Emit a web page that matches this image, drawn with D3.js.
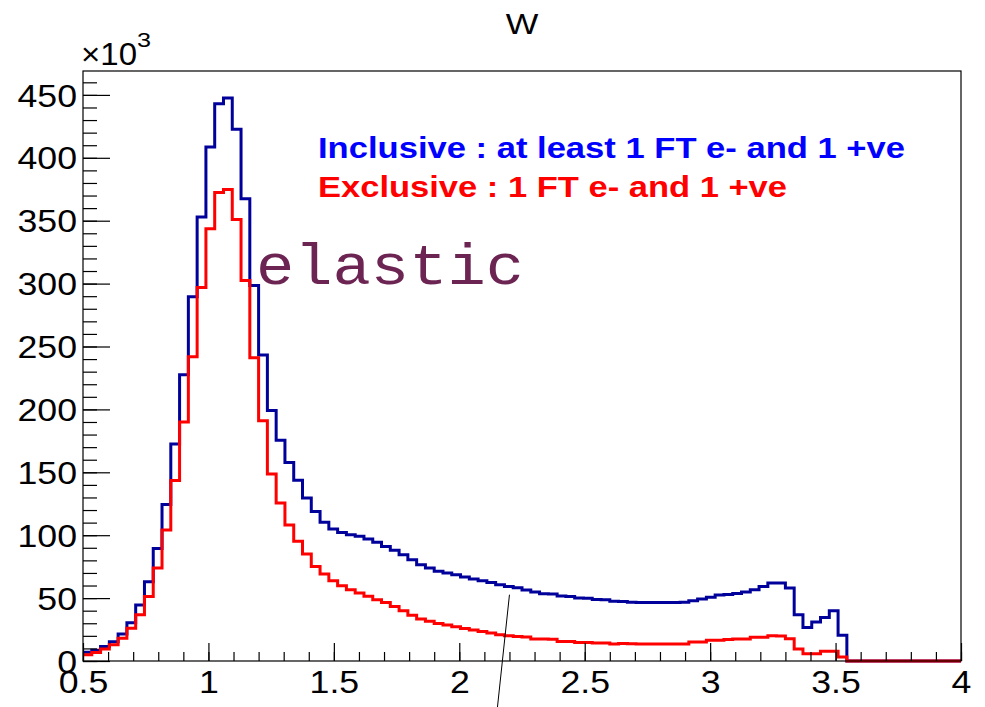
<!DOCTYPE html>
<html>
<head>
<meta charset="utf-8">
<script src="https://cdn.jsdelivr.net/npm/d3@7"></script>
<style>
  html, body { margin: 0; padding: 0; background: #fff; }
  svg { display: block; }
</style>
</head>
<body>
<svg id="chart" width="985" height="707" font-family="'Liberation Sans', Arial, Helvetica, sans-serif"></svg>
<script>
// ---- data (values in units of 10^3 entries, 100 bins of W from 0.5 to 4) ----
const binLow = 0.5;
const binHigh = 4.0;
const nBins = 100;

const inclusive = [
  7, 8.5, 11.5, 15.4, 21.4, 30.4, 44.5, 63, 89.5, 124.5,
  172.5, 227.5, 289.5, 353, 408.5, 443, 447.5, 422.7, 367.5, 298.5,
  243.2, 199.2, 175.4, 157.8, 143.7, 129.5, 118.9, 110.2, 104.9, 102.2,
  100.4, 99.1, 97, 94.3, 91.1, 88, 84.5, 80.5, 76.6, 73.9,
  71.3, 69.9, 68.6, 66.8, 65.2, 63.8, 62.5, 60.6, 59.3, 58.2,
  56.4, 54.8, 53.5, 53.3, 51.6, 51.2, 50.1, 49.8, 48.8, 48.6,
  47.5, 47.3, 46.7, 46.6, 46.6, 46.6, 46.6, 46.6, 46.8, 47.9,
  49.3, 50.6, 52.5, 52.9, 53.6, 54.8, 56.7, 59.3, 62, 62,
  58, 36.8, 26.6, 31, 34.6, 40, 20.5, 0, 0, 0,
  0, 0, 0, 0, 0, 0, 0, 0, 0, 0
];

const exclusive = [
  5, 6.7, 9.5, 13, 18.1, 26, 36.8, 51.2, 74, 104.2,
  143.5, 190, 241.8, 297, 343.6, 372.4, 374.8, 351, 302.4, 241,
  191, 148.7, 125.5, 108.1, 95.1, 85, 75.2, 69.1, 63.8, 59.8,
  56.7, 54.1, 51.4, 48.7, 46.6, 43.4, 40, 36.3, 33.4, 31.5,
  29.9, 28.6, 27.3, 25.9, 24.6, 23.5, 22.3, 20.9, 20.1, 19.5,
  19, 17.5, 17.5, 17.2, 15.6, 15.6, 14.8, 14.8, 14.3, 14.3,
  13.5, 14, 13.7, 13.5, 13.5, 13.5, 13.5, 13.5, 13.5, 15.1,
  15.1, 16.4, 16.4, 17, 17.5, 17.5, 18.8, 18.8, 20.1, 19.8,
  17.7, 9.5, 5.8, 5.8, 7.7, 7.7, 3.2, 0, 0, 0,
  0, 0, 0, 0, 0, 0, 0, 0, 0, 0
];

const xTicks = [0.5, 1, 1.5, 2, 2.5, 3, 3.5, 4];
const xTickLabels = ["0.5", "1", "1.5", "2", "2.5", "3", "3.5", "4"];
const yTicks = [0, 50, 100, 150, 200, 250, 300, 350, 400, 450];
const yTickLabels = ["0", "50", "100", "150", "200", "250", "300", "350", "400", "450"];
const yMax = 469;

const titleText = "W";
const legendLabels = ["Inclusive : at least 1 FT e- and 1 +ve", "Exclusive : 1 FT e- and 1 +ve"];
const annotationText = "elastic";
// thin annotation line, in data units (x in W, y in 10^3)
const annotationLine = { x1: 2.2, y1: 52.7, x2: 2.152, y2: -37 };

// ---- layout ----
const svg = d3.select("#chart");
const frame = { left: 83, right: 961, top: 71, bottom: 661 };
const stretch = 1.15; // horizontal widening of the reference's text

function widen(sel) {
  sel.each(function () {
    const w = this.getComputedTextLength();
    d3.select(this).attr("textLength", w * stretch).attr("lengthAdjust", "spacingAndGlyphs");
  });
}

const x = d3.scaleLinear().domain([binLow, binHigh]).range([frame.left, frame.right]);
const y = d3.scaleLinear().domain([0, yMax]).range([frame.bottom, frame.top]);

const binWidth = (binHigh - binLow) / nBins;
function stepPoints(vals) {
  const pts = vals.map((v, i) => [binLow + i * binWidth, v]);
  pts.push([binHigh, vals[vals.length - 1]]);
  return pts;
}
const line = d3.line().x(d => x(d[0])).y(d => y(d[1])).curve(d3.curveStepAfter);

// histograms
svg.append("path").datum(stepPoints(inclusive))
  .attr("d", line).attr("fill", "none")
  .attr("stroke", "#00009a").attr("stroke-width", 3).attr("stroke-linejoin", "miter");
svg.append("path").datum(stepPoints(exclusive))
  .attr("d", line).attr("fill", "none")
  .attr("stroke", "#ff0000").attr("stroke-width", 3).attr("stroke-linejoin", "miter");

// frame
svg.append("rect")
  .attr("x", frame.left).attr("y", frame.top)
  .attr("width", frame.right - frame.left).attr("height", frame.bottom - frame.top)
  .attr("fill", "none").attr("stroke", "#000").attr("stroke-width", 1.2);

// y axis minor ticks
const yMinor = d3.range(0, yMax, 10);
const yMinorAxis = d3.axisLeft(y).tickValues(yMinor).tickSize(-14).tickFormat("");
const gyMinor = svg.append("g").attr("transform", `translate(${frame.left},0)`).call(yMinorAxis);
gyMinor.select(".domain").remove();

// y axis major
const yAxis = d3.axisLeft(y).tickValues(yTicks).tickSize(-27).tickPadding(6)
  .tickFormat((d, i) => yTickLabels[i]);
const gy = svg.append("g").attr("transform", `translate(${frame.left},0)`).call(yAxis);
gy.attr("font-family", null).attr("font-size", null);
gy.select(".domain").remove();
gy.selectAll("text").style("font-size", "31px").attr("fill", "#000").attr("dy", "0.36em").call(widen);

// x axis minor
const xMinor = d3.range(5, 41).map(d => d / 10);
const xMinorAxis = d3.axisBottom(x).tickValues(xMinor).tickSize(-9).tickFormat("");
const gxMinor = svg.append("g").attr("transform", `translate(0,${frame.bottom})`).call(xMinorAxis);
gxMinor.select(".domain").remove();

// x axis major
const xAxis = d3.axisBottom(x).tickValues(xTicks).tickSize(-18).tickPadding(10)
  .tickFormat((d, i) => xTickLabels[i]);
const gx = svg.append("g").attr("transform", `translate(0,${frame.bottom})`).call(xAxis);
gx.attr("font-family", null).attr("font-size", null);
gx.select(".domain").remove();
gx.selectAll("text").style("font-size", "31px").attr("fill", "#000").call(widen);

svg.selectAll(".tick line").attr("stroke", "#000").attr("stroke-width", 1.2);

// title
svg.append("text").attr("x", 522).attr("y", 34).attr("text-anchor", "middle")
  .attr("font-size", 30).text(titleText).call(widen);

// exponent label
const exp = svg.append("text").attr("x", 81).attr("y", 65).attr("font-size", 31);
exp.append("tspan").text("\u00d710").attr("textLength", 56).attr("lengthAdjust", "spacingAndGlyphs");
exp.append("tspan").attr("font-size", 21).attr("dy", -18).text("3")
  .attr("textLength", 14).attr("lengthAdjust", "spacingAndGlyphs");

// legend texts
svg.append("text").attr("x", 318).attr("y", 157.5)
  .attr("font-size", 30).attr("font-weight", "bold").attr("fill", "#0000ff")
  .attr("textLength", 587).attr("lengthAdjust", "spacingAndGlyphs")
  .text(legendLabels[0]);
svg.append("text").attr("x", 318).attr("y", 197)
  .attr("font-size", 30).attr("font-weight", "bold").attr("fill", "#ff0000")
  .attr("textLength", 469).attr("lengthAdjust", "spacingAndGlyphs")
  .text(legendLabels[1]);

// annotation
svg.append("text").attr("x", 256).attr("y", 284)
  .attr("font-family", "'Liberation Mono', 'Courier New', monospace")
  .attr("font-size", 58).attr("fill", "#6c2453")
  .attr("textLength", 268).attr("lengthAdjust", "spacingAndGlyphs")
  .text(annotationText);

svg.append("line")
  .attr("x1", x(annotationLine.x1)).attr("y1", y(annotationLine.y1))
  .attr("x2", x(annotationLine.x2)).attr("y2", y(annotationLine.y2))
  .attr("stroke", "#000").attr("stroke-width", 1);
</script>
</body>
</html>
